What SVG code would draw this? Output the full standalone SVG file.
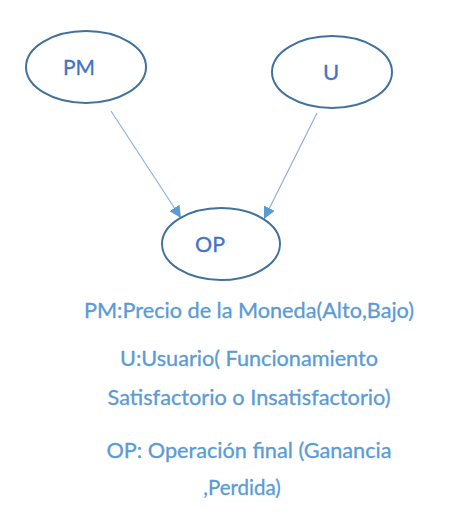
<svg xmlns="http://www.w3.org/2000/svg" width="456" height="528" viewBox="0 0 456 528">
<style>
.node ellipse{fill:#ffffff;stroke:#41719c;stroke-width:2}
.node text{font-family:Lato,"Open Sans","Liberation Sans",sans-serif;font-size:22px;fill:#4472c4;stroke:#4472c4;stroke-width:0.3;text-anchor:middle}
.edge{stroke:#8db3e2;stroke-width:1.2;fill:none}
.legend{font-family:Lato,"Open Sans","Liberation Sans",sans-serif;font-size:20.5px;fill:#5b9bd5;stroke:#5b9bd5;stroke-width:0.3;text-anchor:middle}
</style>
<defs>
<marker id="arr" viewBox="0 0 12 12" refX="12" refY="6" markerWidth="12" markerHeight="12" markerUnits="userSpaceOnUse" orient="auto">
<path d="M0,0 L12,6 L0,12 z" fill="#5b9bd5"/>
</marker>
</defs>
<rect width="456" height="528" fill="#ffffff"/>
<g id="connectors">
<line class="edge" x1="111" y1="111" x2="181" y2="218" marker-end="url(#arr)"/>
<line class="edge" x1="317" y1="113" x2="264" y2="219" marker-end="url(#arr)"/>
</g>
<g id="node-PM" class="node">
<ellipse cx="86" cy="67" rx="60" ry="36"/>
<text x="79" y="75" textLength="32" lengthAdjust="spacingAndGlyphs">PM</text>
</g>
<g id="node-U" class="node">
<ellipse cx="332" cy="72" rx="60" ry="36"/>
<text x="331" y="80">U</text>
</g>
<g id="node-OP" class="node">
<ellipse cx="221" cy="244" rx="59" ry="36"/>
<text x="210" y="252" textLength="30" lengthAdjust="spacingAndGlyphs">OP</text>
</g>
<g id="legend">
<text class="legend" x="249" y="318" textLength="330" lengthAdjust="spacingAndGlyphs">PM:Precio de la Moneda(Alto,Bajo)</text>
<text class="legend" x="249" y="366" textLength="258" lengthAdjust="spacingAndGlyphs">U:Usuario( Funcionamiento</text>
<text class="legend" x="249" y="405" textLength="283" lengthAdjust="spacingAndGlyphs">Satisfactorio o Insatisfactorio)</text>
<text class="legend" x="249" y="458" textLength="285" lengthAdjust="spacingAndGlyphs">OP: Operación final (Ganancia</text>
<text class="legend" x="242" y="495">,Perdida)</text>
</g>
</svg>
